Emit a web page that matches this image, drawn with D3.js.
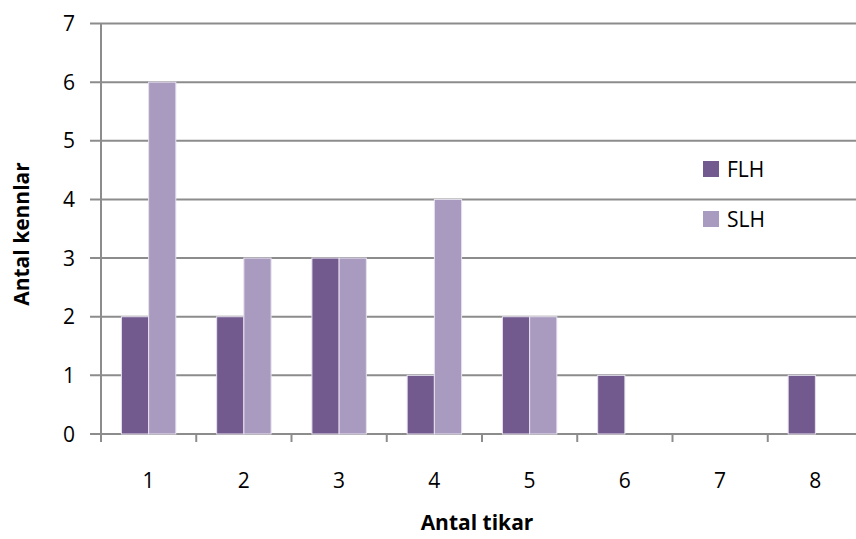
<!DOCTYPE html>
<html><head><meta charset="utf-8">
<script src="https://cdn.jsdelivr.net/npm/d3@7"></script>
<style>body{margin:0;background:#fff}svg{display:block}</style>
</head><body>
<svg id="c" width="856" height="539"></svg>
<script>
const categories = ["1","2","3","4","5","6","7","8"];
const seriesNames = ["FLH","SLH"];
const flh = [2,2,3,1,2,1,0,1];
const slh = [6,3,3,4,2,0,0,0];
const yTicks = [0,1,2,3,4,5,6,7];
const colors = ["#725a8f","#a99bc0"];

const svg = d3.select("#c");
const font = "'Open Sans', sans-serif";
const fs = 21;
const x0 = d3.scaleBand().domain(categories).range([101, 863]).paddingInner(0).paddingOuter(0);
const y = d3.scaleLinear().domain([0,7]).range([434, 23.5]);
const bw = x0.bandwidth()/3.5;
const x1 = d3.scaleBand().domain(seriesNames).range([0.75*bw, 2.75*bw]).padding(0);

// gridlines
svg.append("g").selectAll("line").data(yTicks).join("line")
  .attr("x1", 90).attr("x2", 870)
  .attr("y1", d=>y(d)).attr("y2", d=>y(d))
  .attr("stroke", "#8c8c8c").attr("stroke-width", 2);

// y axis line
svg.append("line").attr("x1",101).attr("x2",101).attr("y1",y(7)).attr("y2",y(0)+1)
  .attr("stroke","#8c8c8c").attr("stroke-width",2);

// y labels
svg.append("g").selectAll("text").data(yTicks).join("text")
  .attr("x", 75).attr("y", d=>y(d)).attr("dy","0.36em")
  .attr("text-anchor","end").attr("font-family",font).attr("font-size",fs).attr("fill","#000")
  .text(d=>d);

// x ticks
const bounds = categories.map(c=>x0(c)).concat([x0.range()[1]]);
svg.append("g").selectAll("line").data(bounds).join("line")
  .attr("x1",d=>d).attr("x2",d=>d).attr("y1",434).attr("y2",442)
  .attr("stroke","#8c8c8c").attr("stroke-width",2);

// bars
const data = [flh, slh];
seriesNames.forEach((s,i)=>{
  svg.append("g").selectAll("rect").data(categories.map((c,j)=>({c, v:data[i][j]})).filter(d=>d.v>0)).join("rect")
    .attr("x", d=>x0(d.c)+x1(s)).attr("width", x1.bandwidth())
    .attr("y", d=>y(d.v)).attr("height", d=>y(0)-y(d.v))
    .attr("fill", colors[i]).attr("stroke","#e6e0ee").attr("stroke-width",1);
});

// x labels
svg.append("g").selectAll("text").data(categories).join("text")
  .attr("x", d=>x0(d)+x0.bandwidth()/2).attr("y", 480).attr("dy","0.36em")
  .attr("text-anchor","middle").attr("font-family",font).attr("font-size",fs).attr("fill","#000")
  .text(d=>d);

// axis titles
svg.append("text").attr("x",477).attr("y",522).attr("dy","0.36em").attr("text-anchor","middle")
  .attr("font-family",font).attr("font-size",fs).attr("font-weight","bold").text("Antal tikar");
svg.append("text").attr("transform","translate(21,234) rotate(-90)").attr("dy","0.36em").attr("text-anchor","middle")
  .attr("font-family",font).attr("font-size",fs).attr("font-weight","bold").text("Antal kennlar");

// legend
const leg = svg.append("g");
seriesNames.forEach((s,i)=>{
  leg.append("rect").attr("x",703).attr("y",161+i*50).attr("width",16).attr("height",16).attr("fill",colors[i]);
  leg.append("text").attr("x",727).attr("y",169+i*50).attr("dy","0.36em")
    .attr("font-family",font).attr("font-size",fs).text(s);
});
</script>
</body></html>
